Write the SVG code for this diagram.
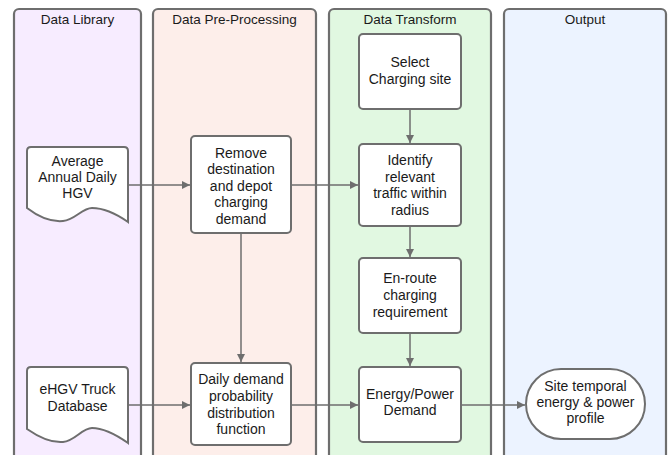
<svg xmlns="http://www.w3.org/2000/svg" width="672" height="455" viewBox="0 0 672 455">
<defs>
<style>
.lane{stroke:#6e6e6e;stroke-width:2.2}
.node{fill:#fff;stroke:#6e6e6e;stroke-width:2}
.t{font-family:"Liberation Sans",Arial,sans-serif;font-size:14px;fill:#1a1a1a;text-anchor:middle}
.h{font-family:"Liberation Sans",Arial,sans-serif;font-size:13.5px;fill:#1a1a1a;text-anchor:middle}
.c{fill:none;stroke:#6e6e6e;stroke-width:1.5;marker-end:url(#ah)}
</style>
<marker id="ah" viewBox="0 0 10 10" refX="10" refY="5" markerWidth="10" markerHeight="8" markerUnits="userSpaceOnUse" orient="auto">
<path d="M0,0 L10,5 L0,10 z" fill="#6e6e6e"/>
</marker>
</defs>
<rect width="672" height="455" fill="#fff"/>
<g id="lanes">
<g id="lane-library"><rect class="lane" x="14" y="9" width="127" height="460" rx="5" fill="#f7ecff"/><text class="h" x="77.5" y="24">Data Library</text></g>
<g id="lane-preprocessing"><rect class="lane" x="153" y="9" width="163" height="460" rx="5" fill="#fdeeea"/><text class="h" x="234.5" y="24">Data Pre-Processing</text></g>
<g id="lane-transform"><rect class="lane" x="329" y="9" width="162" height="460" rx="5" fill="#e1f8e1"/><text class="h" x="410" y="24">Data Transform</text></g>
<g id="lane-output"><rect class="lane" x="504" y="9" width="162" height="460" rx="5" fill="#ecf3ff"/><text class="h" x="585" y="24">Output</text></g>
</g>
<g id="connectors">
<path class="c" d="M128,185 H190"/>
<path class="c" d="M291,185 H358"/>
<path class="c" d="M410,109 V143"/>
<path class="c" d="M410,226 V257"/>
<path class="c" d="M410,333 V366"/>
<path class="c" d="M241,233 V362"/>
<path class="c" d="M128,405 H190"/>
<path class="c" d="M291,405 H358"/>
<path class="c" d="M461,405 H525"/>
</g>
<g id="doc-aadt">
<path class="node" d="M27,151 Q27,147 31,147 H124 Q128,147 128,151 V222 C118,215 105,208 92,208 C82,208 75,220 63,221 C52,222 40,218 27,208 Z"/>
<text class="t" x="77.5" y="166">Average</text>
<text class="t" x="77.5" y="182">Annual Daily</text>
<text class="t" x="77.5" y="198">HGV</text>
</g>
<g id="doc-ehgv">
<path class="node" d="M27,371 Q27,367 31,367 H124 Q128,367 128,371 V443 C118,436 105,428 92,428 C82,428 75,441 63,442 C52,443 40,438 27,429 Z"/>
<text class="t" x="77.5" y="394">eHGV Truck</text>
<text class="t" x="77.5" y="411">Database</text>
</g>
<g id="remove">
<rect class="node" x="191" y="136" width="100" height="97" rx="4"/>
<text class="t" x="241" y="158">Remove</text>
<text class="t" x="241" y="174">destination</text>
<text class="t" x="241" y="191">and depot</text>
<text class="t" x="241" y="207">charging</text>
<text class="t" x="241" y="224">demand</text>
</g>
<g id="daily">
<rect class="node" x="191" y="363" width="100" height="82" rx="4"/>
<text class="t" x="241" y="384">Daily demand</text>
<text class="t" x="241" y="401">probability</text>
<text class="t" x="241" y="418">distribution</text>
<text class="t" x="241" y="434">function</text>
</g>
<g id="select">
<rect class="node" x="359" y="34" width="102" height="75" rx="4"/>
<text class="t" x="410" y="67">Select</text>
<text class="t" x="410" y="84">Charging site</text>
</g>
<g id="identify">
<rect class="node" x="359" y="144" width="102" height="82" rx="4"/>
<text class="t" x="410" y="165">Identify</text>
<text class="t" x="410" y="182">relevant</text>
<text class="t" x="410" y="198">traffic within</text>
<text class="t" x="410" y="215">radius</text>
</g>
<g id="enroute">
<rect class="node" x="359" y="258" width="102" height="75" rx="4"/>
<text class="t" x="410" y="283">En-route</text>
<text class="t" x="410" y="300">charging</text>
<text class="t" x="410" y="317">requirement</text>
</g>
<g id="energy">
<rect class="node" x="359" y="367" width="102" height="75" rx="4"/>
<text class="t" x="410" y="399">Energy/Power</text>
<text class="t" x="410" y="415">Demand</text>
</g>
<g id="output">
<rect class="node" x="526" y="369" width="119" height="70" rx="35" ry="35"/>
<text class="t" x="585.5" y="391">Site temporal</text>
<text class="t" x="585.5" y="407">energy &amp; power</text>
<text class="t" x="585.5" y="423">profile</text>
</g>
</svg>
